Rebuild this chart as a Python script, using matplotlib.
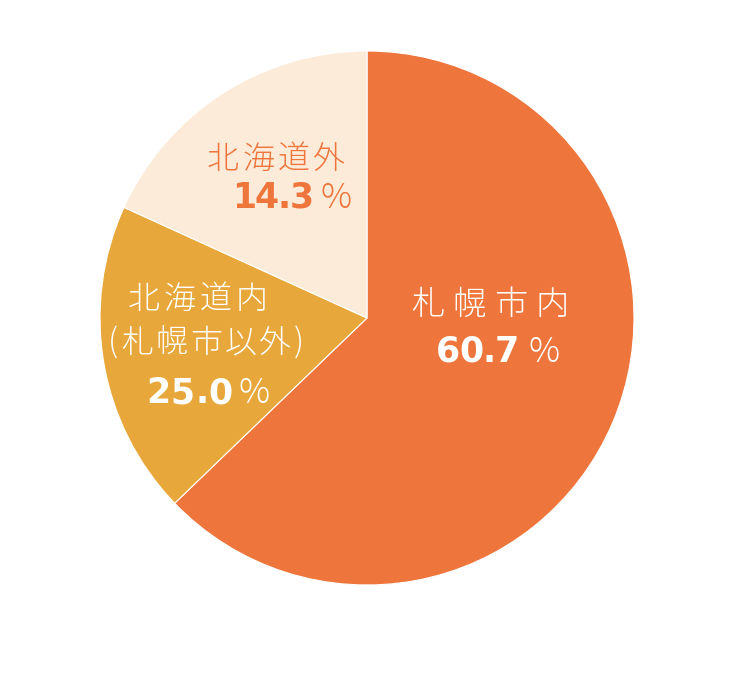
import matplotlib.pyplot as plt

# data
names = ['札幌市内', '北海道内\n(札幌市以外)', '北海道外']
pct_labels = ['60.7', '25.0', '14.3']
# slice sizes as drawn in the original graphic
shares = [62.8, 19.0, 18.2]
colors = ['#EE763C', '#E8A73A', '#FDEBD9']
text_colors = ['white', 'white', '#EE763C']

plt.rcParams['font.family'] = ['Noto Sans CJK JP', 'DejaVu Sans']

fig = plt.figure(figsize=(7.5, 7), dpi=100)
W, H = 750, 700
cx, cy, r = 367, 318, 267


def fx(px):
    return px / W


def fy(py):
    return 1 - py / H


ax = fig.add_axes([(cx - r) / W, (H - cy - r) / H, 2 * r / W, 2 * r / H])
ax.pie(shares, colors=colors, startangle=90, counterclock=False,
       wedgeprops=dict(edgecolor='white', linewidth=0.8))
ax.set_xlim(-1, 1)
ax.set_ylim(-1, 1)
ax.set_aspect('equal')

renderer = fig.canvas.get_renderer()


def spread(s, left, right, base, **kw):
    # draw characters one by one so they fill left..right (letter spacing)
    widths = []
    for ch in s:
        t = fig.text(0, 0, ch, **kw)
        widths.append(t.get_window_extent(renderer).width)
        t.remove()
    gap = (right - left - sum(widths)) / max(len(s) - 1, 1)
    x = left
    for ch, w in zip(s, widths):
        fig.text(fx(x), fy(base), ch, ha='left', va='baseline', **kw)
        x += w + gap


# layout (pixels): each line is (left, right, baseline)
name_lines = [
    [(411, 569, 315)],
    [(128, 268, 309), (108, 304, 353)],
    [(207, 345, 169)],
]
name_size = [24, 23, 23]
num_box = [(436, 519, 362), (146, 233, 403), (232, 314, 208)]
pct_x = [529, 238, 320]

num = dict(fontsize=25, family=['DejaVu Sans'], fontweight='bold')
sign = dict(fontsize=25, family=['Noto Sans CJK JP', 'DejaVu Sans'],
            fontweight='light')

for i in range(3):
    cjk = dict(fontsize=name_size[i],
               family=['Noto Sans CJK JP', 'DejaVu Sans'], fontweight='light')
    for line, (l, rr, b) in zip(names[i].split('\n'), name_lines[i]):
        spread(line, l, rr, b, color=text_colors[i], **cjk)
    l, rr, b = num_box[i]
    spread(pct_labels[i], l, rr, b, color=text_colors[i], **num)
    fig.text(fx(pct_x[i]), fy(b), '%', ha='left', va='baseline',
             color=text_colors[i], **sign)

fig.savefig('out.png', dpi=100, facecolor='white')
